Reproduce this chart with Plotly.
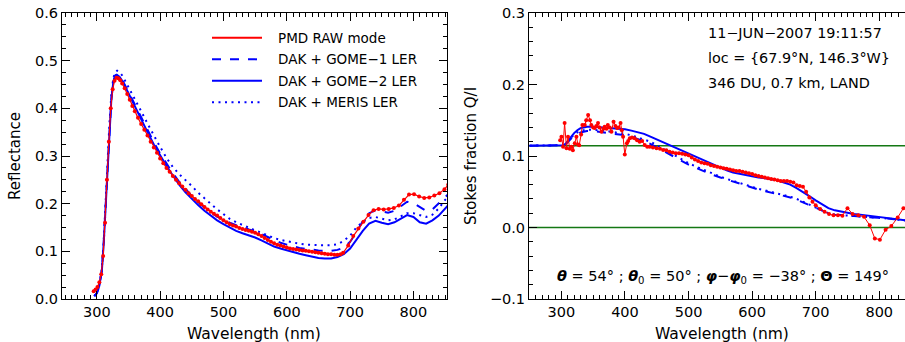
import plotly.graph_objects as go

# ---------------- data: left panel (reflectance) ----------------
pmd_wl_L = [295, 298, 301, 304, 307, 310, 313, 316, 319, 322, 325, 328, 331, 334, 337, 340,
            344, 348, 352, 356, 360, 365, 370, 375, 380, 385, 390, 395, 400, 405, 410, 415,
            420, 425, 430, 435, 440, 445, 450, 455, 460, 465, 470, 475, 480, 485, 490, 495,
            500, 505, 510, 515, 520, 525, 530, 535, 540, 545, 550, 555, 560, 565, 570, 575,
            580, 585, 590, 595, 600, 605, 610, 615, 620, 625, 630, 635, 640, 645, 650, 655,
            660, 665, 670, 675, 680, 685, 689, 697, 705, 713, 721, 729, 737, 745, 753, 761,
            769, 777, 785, 793, 801, 809, 817, 825, 833, 841, 849, 855]
pmd_refl_L = [0.016, 0.020, 0.025, 0.035, 0.052, 0.090, 0.160, 0.250, 0.330, 0.400, 0.440, 0.458,
              0.464, 0.463, 0.459, 0.452, 0.442, 0.430, 0.418, 0.405, 0.394, 0.380, 0.367, 0.355,
              0.343, 0.330, 0.318, 0.307, 0.295, 0.285, 0.275, 0.267, 0.258, 0.250, 0.243, 0.236,
              0.229, 0.222, 0.216, 0.210, 0.205, 0.199, 0.193, 0.188, 0.183, 0.179, 0.175, 0.170,
              0.165, 0.161, 0.157, 0.154, 0.152, 0.149, 0.147, 0.145, 0.143, 0.141, 0.139, 0.136,
              0.132, 0.128, 0.124, 0.120, 0.117, 0.114, 0.112, 0.110, 0.108, 0.106, 0.105, 0.104,
              0.103, 0.102, 0.101, 0.100, 0.099, 0.098, 0.097, 0.096, 0.095, 0.094, 0.094, 0.093,
              0.093, 0.094, 0.097, 0.112, 0.132, 0.148, 0.162, 0.176, 0.186, 0.189, 0.188, 0.189,
              0.191, 0.196, 0.208, 0.219, 0.220, 0.215, 0.212, 0.213, 0.217, 0.222, 0.230, 0.240]

model_wl_L = [296, 300, 304, 308, 311, 314, 317, 320, 323, 326, 329, 332, 336, 340, 345, 350, 355, 360,
              370, 380, 390, 400, 410, 420, 430, 440, 450, 460, 470, 480, 490, 500, 510, 520, 530,
              540, 550, 560, 570, 580, 590, 600, 610, 620, 630, 640, 650, 660, 670, 680, 690, 700,
              710, 720, 730, 740, 750, 760, 770, 780, 790, 800, 810, 820, 830, 840, 850, 855]
gome1_L = [0.006, 0.012, 0.028, 0.060, 0.120, 0.200, 0.280, 0.360, 0.420, 0.456, 0.469, 0.471, 0.468,
           0.460, 0.448, 0.435, 0.421, 0.408, 0.381, 0.355, 0.329, 0.305, 0.284, 0.264, 0.246, 0.230,
           0.216, 0.203, 0.192, 0.182, 0.173, 0.166, 0.160, 0.155, 0.150, 0.146, 0.142, 0.136, 0.129,
           0.123, 0.118, 0.114, 0.110, 0.107, 0.105, 0.103, 0.102, 0.101, 0.101, 0.103, 0.108, 0.120,
           0.140, 0.163, 0.180, 0.186, 0.183, 0.181, 0.185, 0.194, 0.204, 0.201, 0.193, 0.185, 0.188,
           0.200, 0.214, 0.220]
gome2_L = [0.006, 0.012, 0.028, 0.060, 0.120, 0.200, 0.280, 0.360, 0.420, 0.455, 0.468, 0.470, 0.466,
           0.458, 0.446, 0.432, 0.418, 0.404, 0.377, 0.350, 0.324, 0.300, 0.279, 0.259, 0.240, 0.224,
           0.210, 0.197, 0.185, 0.174, 0.165, 0.157, 0.150, 0.143, 0.138, 0.134, 0.129, 0.123, 0.116,
           0.110, 0.106, 0.102, 0.098, 0.095, 0.092, 0.089, 0.086, 0.085, 0.085, 0.088, 0.094, 0.106,
           0.124, 0.143, 0.158, 0.164, 0.160, 0.157, 0.161, 0.168, 0.176, 0.172, 0.161, 0.158, 0.165,
           0.175, 0.190, 0.197]
meris_L = [0.006, 0.013, 0.030, 0.065, 0.125, 0.210, 0.290, 0.370, 0.430, 0.463, 0.476, 0.479, 0.476,
           0.469, 0.457, 0.445, 0.432, 0.420, 0.394, 0.368, 0.342, 0.319, 0.296, 0.277, 0.262, 0.250,
           0.237, 0.223, 0.211, 0.199, 0.188, 0.178, 0.168, 0.161, 0.155, 0.149, 0.144, 0.139, 0.133,
           0.128, 0.124, 0.121, 0.118, 0.116, 0.114, 0.113, 0.113, 0.113, 0.113, 0.115, 0.122, 0.133,
           0.150, 0.162, 0.170, 0.172, 0.168, 0.165, 0.167, 0.173, 0.180, 0.180, 0.176, 0.172, 0.177,
           0.190, 0.208, 0.215]

# ---------------- data: right panel (Stokes fraction Q/I) ----------------
pmd_wl_R = [298, 300, 302.6, 305, 308, 310.4, 313, 315.7, 318, 321, 323.6, 326, 328, 331, 333, 336.7,
            339, 342, 345, 347, 350, 352.4, 355, 357.6, 360, 363, 366, 368, 371, 373, 376, 378.7,
            382, 385, 387.6, 390, 393, 395, 397, 399.7, 403, 405, 407.6, 411, 415, 419, 423, 427,
            431, 435, 439, 444, 449.6, 455, 460, 465, 470, 475, 480, 485, 490, 495, 500, 505, 510,
            515, 520, 525, 530, 535, 540, 545, 550, 555, 560, 565, 570, 575, 580, 585, 590, 595,
            600, 605, 610, 615, 620, 625, 630, 635, 640, 645, 650, 655, 660, 665, 670, 675, 680,
            685, 690, 695, 700, 707, 714, 721, 728, 735, 742, 750, 758, 767, 776, 785, 793, 801,
            810, 819, 829, 838]
pmd_q_R = [0.122, 0.127, 0.113, 0.146, 0.111, 0.127, 0.110, 0.113, 0.108, 0.118, 0.127, 0.116, 0.115,
           0.130, 0.1435, 0.1435, 0.150, 0.1575, 0.150, 0.1435, 0.140, 0.139, 0.142, 0.146, 0.140,
           0.134, 0.138, 0.141, 0.138, 0.1435, 0.140, 0.134, 0.148, 0.142, 0.139, 0.140, 0.146, 0.136,
           0.127, 0.102, 0.118, 0.121, 0.125, 0.126, 0.125, 0.122, 0.120, 0.121, 0.1155, 0.113, 0.113,
           0.112, 0.111, 0.110, 0.1085, 0.108, 0.106, 0.105, 0.104, 0.104, 0.103, 0.102, 0.101, 0.098,
           0.095, 0.093, 0.091, 0.090, 0.089, 0.087, 0.086, 0.085, 0.084, 0.083, 0.082, 0.081, 0.080,
           0.079, 0.079, 0.078, 0.077, 0.076, 0.075, 0.073, 0.072, 0.071, 0.070, 0.069, 0.068, 0.067,
           0.066, 0.065, 0.065, 0.065, 0.064, 0.063, 0.059, 0.058, 0.057, 0.050, 0.042, 0.036, 0.031,
           0.026, 0.022, 0.019, 0.017, 0.017, 0.0165, 0.027, 0.019, 0.017, 0.015, 0.003, -0.0153,
           -0.017, -0.003, 0.002, 0.014, 0.027]

model_wl_R = [250, 260, 270, 280, 290, 300, 303, 307, 310, 315, 320, 325, 330, 335, 340,
              350, 360, 370, 380, 390, 400, 410, 420, 430, 440, 450, 460, 470, 480, 490, 500,
              510, 520, 530, 540, 550, 560, 570, 580, 590, 600, 610, 620, 630, 640, 650, 660,
              670, 680, 690, 700, 710, 720, 730, 740, 750, 760, 770, 780, 790, 800, 810, 820,
              830, 840, 850]
gome1_R = [0.1145, 0.1145, 0.1145, 0.1145, 0.1145, 0.1145, 0.115, 0.117, 0.120, 0.124, 0.128, 0.131,
           0.133, 0.134, 0.135, 0.135, 0.134, 0.133, 0.132, 0.131, 0.129, 0.127, 0.124, 0.121, 0.117,
           0.112, 0.107, 0.102, 0.097, 0.092, 0.088, 0.084, 0.080, 0.076, 0.073, 0.070, 0.067, 0.064,
           0.061, 0.058, 0.055, 0.053, 0.051, 0.049, 0.046, 0.044, 0.042, 0.039, 0.035, 0.031, 0.027,
           0.023, 0.020, 0.018, 0.017, 0.0165, 0.016, 0.0155, 0.015, 0.0145, 0.014, 0.013, 0.012,
           0.011, 0.0095, 0.009]
gome2_R = [0.1145, 0.1145, 0.1145, 0.1145, 0.1145, 0.1145, 0.115, 0.1175, 0.121, 0.127, 0.132, 0.136,
           0.139, 0.140, 0.141, 0.141, 0.1405, 0.140, 0.1395, 0.139, 0.1375, 0.1355, 0.133, 0.131,
           0.127, 0.123, 0.119, 0.115, 0.111, 0.107, 0.103, 0.099, 0.095, 0.091, 0.087, 0.083, 0.080,
           0.077, 0.075, 0.073, 0.071, 0.070, 0.069, 0.068, 0.066, 0.063, 0.060, 0.055, 0.050, 0.044,
           0.038, 0.032, 0.027, 0.024, 0.022, 0.020, 0.019, 0.018, 0.017, 0.016, 0.0145, 0.013, 0.012,
           0.011, 0.010, 0.009]
meris_R = [0.1145, 0.1145, 0.1145, 0.1145, 0.1145, 0.1145, 0.115, 0.117, 0.120, 0.125, 0.130, 0.133,
           0.135, 0.136, 0.137, 0.137, 0.136, 0.135, 0.134, 0.133, 0.131, 0.129, 0.126, 0.123, 0.120,
           0.115, 0.110, 0.104, 0.099, 0.094, 0.090, 0.086, 0.082, 0.078, 0.074, 0.071, 0.068, 0.065,
           0.062, 0.059, 0.056, 0.054, 0.052, 0.050, 0.047, 0.045, 0.043, 0.040, 0.036, 0.032, 0.028,
           0.024, 0.020, 0.018, 0.017, 0.0165, 0.016, 0.0155, 0.015, 0.0145, 0.014, 0.013, 0.012,
           0.011, 0.0095, 0.009]

green_levels_R = [0.0, 0.1145]

legend_names = ["PMD RAW mode", "DAK + GOME\u22121 LER", "DAK + GOME\u22122 LER", "DAK + MERIS LER"]
info_lines = ["11\u2212JUN\u22122007 19:11:57", "loc = {67.9\u00b0N, 146.3\u00b0W}", "346 DU, 0.7 km, LAND"]
geometry_text = ("<b><i>\u03b8</i></b> = 54\u00b0 ; <b><i>\u03b8</i></b><sub>0</sub> = 50\u00b0 ; "
                 "<b><i>\u03c6</i></b>\u2212<b><i>\u03c6</i></b><sub>0</sub> = \u221238\u00b0 ; "
                 "<b>\u0398</b> = 149\u00b0")

# ---------------- layout geometry ----------------
W, H = 905, 342
ML, MR, MT, MB = 62, 0, 13, 43
PW, PH = W - ML - MR, H - MT - MB


def pxx(p):
    return (p - ML) / PW


def pxy(p):
    return (H - MB - p) / PH


RED = "rgb(255,0,0)"
BLUE = "rgb(0,0,255)"
GREEN = "rgb(20,120,20)"
FONT = "DejaVu Sans"
DOT = "2px,4.5px"

fig = go.Figure()

# left panel
fig.add_trace(go.Scatter(x=model_wl_L, y=gome1_L, mode="lines", line=dict(color=BLUE, width=2, dash="dash"),
                         xaxis="x", yaxis="y", showlegend=False))
fig.add_trace(go.Scatter(x=model_wl_L, y=gome2_L, mode="lines", line=dict(color=BLUE, width=2),
                         xaxis="x", yaxis="y", showlegend=False))
fig.add_trace(go.Scatter(x=model_wl_L, y=meris_L, mode="lines", line=dict(color=BLUE, width=2, dash=DOT),
                         xaxis="x", yaxis="y", showlegend=False))
fig.add_trace(go.Scatter(x=pmd_wl_L, y=pmd_refl_L, mode="lines+markers", line=dict(color=RED, width=1.2),
                         marker=dict(color=RED, size=4), xaxis="x", yaxis="y", showlegend=False))

# right panel
fig.add_trace(go.Scatter(x=model_wl_R, y=gome1_R, mode="lines", line=dict(color=BLUE, width=2, dash="dash"),
                         xaxis="x2", yaxis="y2", showlegend=False))
fig.add_trace(go.Scatter(x=model_wl_R, y=meris_R, mode="lines", line=dict(color=BLUE, width=2, dash=DOT),
                         xaxis="x2", yaxis="y2", showlegend=False))
fig.add_trace(go.Scatter(x=model_wl_R, y=gome2_R, mode="lines", line=dict(color=BLUE, width=2),
                         xaxis="x2", yaxis="y2", showlegend=False))
fig.add_trace(go.Scatter(x=pmd_wl_R, y=pmd_q_R, mode="lines+markers", line=dict(color=RED, width=1),
                         marker=dict(color=RED, size=4), xaxis="x2", yaxis="y2", showlegend=False))

shapes = []
for lv in green_levels_R:
    shapes.append(dict(type="line", xref="x2 domain", yref="y2", x0=0, x1=1, y0=lv, y1=lv,
                       line=dict(color=GREEN, width=1.5), layer="below"))

# manual legend (left panel)
leg_styles = [dict(color=RED, width=2), dict(color=BLUE, width=2, dash="dash"),
              dict(color=BLUE, width=2), dict(color=BLUE, width=2, dash=DOT)]
leg_rows = [37.7, 59.3, 80.7, 102.3]
annotations = []
for name, st, ry in zip(legend_names, leg_styles, leg_rows):
    shapes.append(dict(type="line", xref="paper", yref="paper", x0=pxx(212), x1=pxx(262),
                       y0=pxy(ry), y1=pxy(ry), line=st))
    annotations.append(dict(xref="paper", yref="paper", x=pxx(276), y=pxy(ry), text=name,
                            showarrow=False, xanchor="left", yanchor="middle",
                            font=dict(family=FONT, size=13.5, color="black")))

for txt, ry in zip(info_lines, [33.3, 58.3, 82.7]):
    annotations.append(dict(xref="paper", yref="paper", x=pxx(706), y=pxy(ry), text=txt,
                            showarrow=False, xanchor="left", yanchor="middle",
                            font=dict(family=FONT, size=14.4, color="black")))
annotations.append(dict(xref="paper", yref="paper", x=pxx(555), y=pxy(277), text=geometry_text,
                        showarrow=False, xanchor="left", yanchor="middle",
                        font=dict(family=FONT, size=14.5, color="black")))

# x-axis titles
for cx in [254, 722]:
    annotations.append(dict(xref="paper", yref="paper", x=pxx(cx), y=pxy(333.5), text="Wavelength (nm)",
                            showarrow=False, xanchor="center", yanchor="middle",
                            font=dict(family=FONT, size=15.5, color="black")))

tickfont = dict(family=FONT, size=14.5, color="black")


def xax(rng, dom, mirror):
    return dict(range=rng, domain=dom, tickmode="linear", tick0=0, dtick=100, ticks="inside",
                ticklen=8, tickwidth=1, tickcolor="black", showline=True, linecolor="black",
                linewidth=1, mirror=mirror, showgrid=False, zeroline=False, tickfont=tickfont,
                minor=dict(dtick=10, tick0=0, ticks="inside", ticklen=4, tickcolor="black", showgrid=False))


def yax(rng, dt, mdt, anchor, mirror, title, standoff):
    return dict(range=rng, domain=[0, 1], anchor=anchor, tickmode="linear", tick0=0, dtick=dt,
                tickformat=".1f", ticks="inside", ticklen=8, tickwidth=1, tickcolor="black",
                showline=True, linecolor="black", linewidth=1, mirror=mirror, showgrid=False,
                zeroline=False, tickfont=tickfont,
                title=dict(text=title, font=dict(family=FONT, size=15, color="black"), standoff=standoff),
                minor=dict(dtick=mdt, tick0=0, ticks="inside", ticklen=4, tickcolor="black", showgrid=False))


left_dom = [0, pxx(447)]
right_dom = [pxx(529), 1.0]

fig.update_layout(
    width=W, height=H, margin=dict(l=ML, r=MR, t=MT, b=MB, pad=0, autoexpand=False),
    paper_bgcolor="white", plot_bgcolor="white", showlegend=False,
    xaxis=dict(xax([245, 853], left_dom, "allticks"), anchor="y", automargin=False),
    yaxis=dict(yax([0, 0.6], 0.1, 0.025, "x", "allticks", "Reflectance", 10), automargin=False),
    xaxis2=dict(xax([249, 840.5], right_dom, "allticks"), anchor="y2", automargin=False),
    yaxis2=dict(yax([-0.1, 0.3], 0.1, 0.02, "x2", False, "Stokes fraction Q/I", 9), automargin=False),
    shapes=shapes, annotations=annotations,
)

fig.write_html("out.html")
